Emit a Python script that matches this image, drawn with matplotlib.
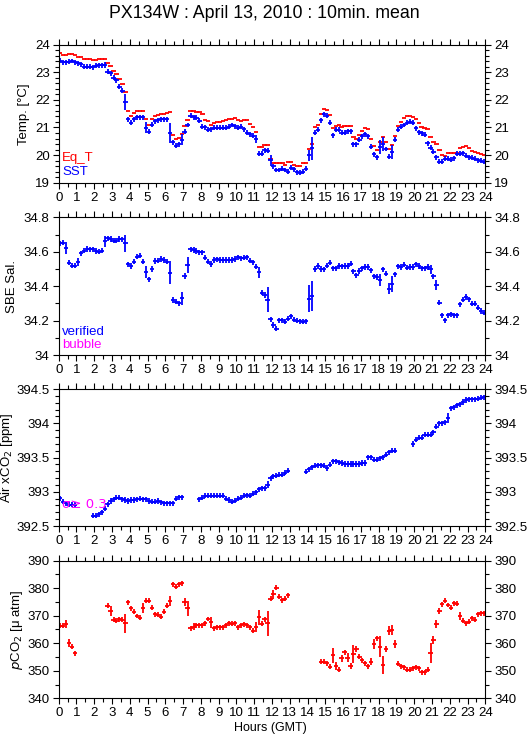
import numpy as np
import matplotlib
matplotlib.use("Agg")
import matplotlib.pyplot as plt
from matplotlib.ticker import MultipleLocator, FormatStrFormatter

plt.rcParams['font.family'] = ['Liberation Sans', 'DejaVu Sans']

# ============================================================
# DATA  (10 min means, 144 bins per day)
# ============================================================

nan = np.nan

eq_t = [
    23.69, 23.63, 23.63, 23.65, 23.65, 23.63,
    23.57, 23.55, 23.47, 23.47, 23.47, 23.44,
    23.44, 23.47, 23.49, 23.49, 23.32, 23.23,
    23.05, 22.93, 22.74, 22.57, 22.27, 21.60,
    21.42, 21.51, 21.60, 21.60, 21.58, 21.30,
    21.10, 21.30, 21.42, 21.45, 21.50, 21.50,
    21.52, 21.55, 20.73, 20.60, 20.63, 20.75,
    21.07, 21.27, 21.60, 21.60, 21.57, 21.55,
    21.48, 21.27, 21.22, 21.10, 21.15, 21.20,
    21.20, 21.24, 21.27, 21.30, 21.30, 21.33,
    21.27, 21.24, 21.27, 21.27, 21.13, 21.03,
    20.82, 20.30, 20.30, 20.37, 20.37, 19.85,
    19.72, 19.73, 19.73, 19.73, 19.64, 19.76,
    19.76, 19.64, 19.60, 19.60, 19.72, 19.72,
    20.22, 20.39, 21.03, 21.09, 21.48, 21.68,
    21.65, 21.45, 20.97, 21.07, 21.10, 21.03,
    21.07, 21.07, 21.07, 20.64, 20.60, 20.73,
    20.88, 20.97, 20.93, 20.57, 20.33, 20.18,
    20.46, 20.67, 20.46, 20.22, 20.37, 20.69,
    21.07, 21.21, 21.33, 21.42, 21.40, 21.37,
    21.32, 21.17, 21.03, 20.99, 20.94, 20.67,
    20.49, 20.40, 20.20, 20.00, 19.97, 20.09,
    20.09, 20.09, 20.06, 20.24, 20.30, 20.33,
    20.24, 20.16, 20.10, 20.06, 20.03, 20.00,
]

sst = [
    23.42, 23.36, 23.36, 23.38, 23.41, 23.36,
    23.32, 23.29, 23.20, 23.20, 23.20, 23.18,
    23.23, 23.26, 23.26, 23.26, 23.02, 22.96,
    22.80, 22.72, 22.48, 22.33, 21.93, 21.30,
    21.17, 21.30, 21.37, 21.37, 21.37, 20.99,
    20.85, 21.10, 21.23, 21.27, 21.30, 21.30,
    21.30, 20.80, 20.46, 20.33, 20.39, 20.55,
    20.85, 21.09, 21.42, 21.37, 21.35, 21.24,
    21.03, 21.00, 20.91, 20.94, 20.99, 20.99,
    20.99, 20.99, 20.99, 21.03, 21.09, 21.05,
    20.99, 21.03, 20.94, 20.81, 20.75, 20.70,
    20.57, 20.04, 20.04, 20.18, 20.16, 19.82,
    19.60, 19.46, 19.46, 19.50, 19.46, 19.40,
    19.54, 19.48, 19.37, 19.36, 19.40, 19.50,
    20.00, 20.24, 20.81, 20.91, 21.27, 21.48,
    21.43, 21.17, 20.72, 20.91, 20.91, 20.81,
    20.81, 20.87, 20.87, 20.39, 20.39, 20.55,
    20.69, 20.75, 20.69, 20.30, 20.03, 19.92,
    20.30, 20.39, 20.22, 19.94, 20.12, 20.55,
    20.91, 21.03, 21.09, 21.17, 21.21, 21.17,
    20.97, 20.82, 20.79, 20.73, 20.42, 20.27,
    20.12, 19.92, 19.76, 19.76, 19.86, 19.86,
    19.84, 19.88, 20.04, 20.04, 20.06, 19.97,
    19.92, 19.91, 19.86, 19.82, 19.79, 19.76,
]
sst_err_big = {15: 0.12, 22: 0.3, 29: 0.2, 37: 0.35, 41: 0.2, 66: 0.15,
               71: 0.2, 84: 0.2, 85: 0.4, 108: 0.25, 109: 0.25, 112: 0.25}

sal = [
    34.649, 34.653, 34.620, 34.536, 34.520, 34.520,
    34.540, 34.590, 34.606, 34.616, 34.614, 34.614,
    34.604, 34.600, 34.606, 34.660, 34.678, 34.674,
    34.664, 34.664, 34.674, 34.672, 34.649, 34.527,
    34.517, 34.542, 34.571, 34.577, 34.542, 34.484,
    34.440, 34.500, 34.546, 34.548, 34.558, 34.552,
    34.542, 34.478, 34.320, 34.310, 34.300, 34.329,
    34.459, 34.523, 34.614, 34.610, 34.604, 34.596,
    34.596, 34.565, 34.542, 34.529, 34.552, 34.556,
    34.552, 34.552, 34.552, 34.552, 34.552, 34.558,
    34.567, 34.562, 34.565, 34.567, 34.548, 34.538,
    34.513, 34.480, 34.362, 34.349, 34.322, 34.208,
    34.174, 34.154, 34.202, 34.202, 34.193, 34.212,
    34.226, 34.206, 34.199, 34.197, 34.193, 34.197,
    34.328, 34.343, 34.500, 34.517, 34.500, 34.497,
    34.520, 34.536, 34.505, 34.505, 34.517, 34.515,
    34.517, 34.517, 34.530, 34.486, 34.463, 34.488,
    34.505, 34.511, 34.511, 34.492, 34.457, 34.453,
    34.434, 34.497, 34.472, 34.386, 34.414, 34.468,
    34.515, 34.511, 34.524, 34.507, 34.511, 34.511,
    34.526, 34.517, 34.505, 34.505, 34.511, 34.497,
    34.457, 34.405, 34.303, 34.231, 34.202, 34.231,
    34.237, 34.231, 34.231, 34.295, 34.322, 34.337,
    34.324, 34.299, 34.299, 34.276, 34.256, 34.247,
]
sal_err_big = {2: 0.034, 6: 0.025, 15: 0.034, 22: 0.048, 29: 0.034, 37: 0.068,
               41: 0.039, 43: 0.048, 67: 0.034, 70: 0.072, 84: 0.077, 85: 0.087,
               108: 0.034, 111: 0.03, 112: 0.048, 125: 0.025, 127: 0.03}

air_xco2 = [
    392.904, 392.855, 392.830, 392.810, 392.810, 392.810,
    nan, nan, nan, nan, nan, 392.650,
    392.650, 392.670, 392.700, 392.750, 392.820, 392.865,
    392.890, 392.910, 392.910, 392.890, 392.880, 392.865,
    392.880, 392.880, 392.890, 392.900, 392.890, 392.890,
    392.865, 392.855, 392.855, 392.865, 392.845, 392.830,
    392.830, 392.830, 392.830, 392.900, 392.920, 392.920,
    nan, nan, nan, nan, nan, 392.890,
    392.910, 392.940, 392.940, 392.940, 392.940, 392.940,
    392.940, 392.940, 392.900, 392.880, 392.855, 392.870,
    392.900, 392.910, 392.940, 392.950, 392.940, 392.970,
    392.990, 393.035, 393.050, 393.050, 393.105, 393.200,
    393.226, 393.236, 393.250, 393.250, 393.275, 393.310,
    nan, nan, nan, nan, nan, 393.290,
    393.330, 393.357, 393.380, 393.386, 393.386, 393.380,
    393.347, 393.395, 393.444, 393.444, 393.430, 393.420,
    393.405, 393.405, 393.405, 393.405, 393.405, 393.405,
    393.420, 393.420, 393.507, 393.507, 393.470, 393.470,
    393.490, 393.507, 393.540, 393.575, 393.600, 393.600,
    nan, nan, nan, nan, nan, 393.700,
    393.760, 393.790, 393.790, 393.830, 393.830, 393.830,
    393.866, 393.950, 394.000, 394.000, 394.015, 394.080,
    394.220, 394.234, 394.260, 394.280, 394.310, 394.340,
    394.350, 394.350, 394.350, 394.360, 394.375, 394.380,
]
xco2_err_big = {70: 0.05, 119: 0.04, 131: 0.07}

pco2 = [
    366.3, 366.4, 366.9, 360.0, 358.8, 356.4,
    nan, nan, nan, nan, nan, nan,
    nan, nan, nan, nan, 373.7, 371.8,
    368.5, 368.2, 368.7, 368.5, 367.2, 374.9,
    372.7, 371.5, 369.9, 369.3, 372.9, 375.4,
    375.4, 372.9, 370.6, 370.3, 369.7, 371.5,
    373.7, 375.4, 381.5, 380.6, 381.4, 381.8,
    375.1, 372.7, 365.4, 366.0, 366.6, 366.6,
    366.6, 367.2, 368.8, 367.6, 365.4, 365.8,
    365.8, 365.8, 366.6, 367.2, 367.0, 367.2,
    365.8, 366.6, 366.9, 366.6, 365.8, 364.5,
    366.0, 369.4, 367.0, 368.7, 367.2, 376.1,
    377.8, 380.2, 376.9, 375.7, 376.1, 377.5,
    nan, nan, nan, nan, nan, nan,
    nan, nan, nan, nan, 353.3, 353.3,
    352.7, 351.5, 355.7, 351.7, 350.3, 354.5,
    356.7, 354.8, 351.7, 356.0, 357.9, 355.1,
    353.9, 352.7, 351.7, 353.3, 359.7, 361.8,
    358.8, 352.1, 357.9, 364.6, 364.8, 359.7,
    352.5, 351.7, 351.3, 350.3, 350.3, 350.9,
    351.3, 350.9, 349.4, 349.4, 350.3, 356.6,
    361.2, 367.0, 371.7, 374.1, 375.5, 373.9,
    372.9, 374.5, 374.3, 369.9, 368.1, 367.2,
    367.8, 369.1, 368.5, 370.5, 370.9, 370.9,
]
pco2_err_big = {2: 1.5, 3: 1.5, 17: 1.8, 22: 3.6, 28: 1.9, 37: 1.8, 42: 1.5,
                43: 2.7, 45: 1.2, 51: 2.0, 66: 1.8, 67: 2.7, 70: 4.5, 72: 1.7,
                92: 2.7, 93: 1.5, 95: 1.2, 97: 1.6, 98: 1.0, 99: 3.3, 100: 1.0,
                105: 1.2, 106: 1.7, 108: 3.8, 109: 3.2, 110: 1.2, 111: 1.7,
                112: 1.8, 113: 1.6, 125: 3.6, 126: 1.5, 127: 1.3, 128: 1.0,
                135: 1.5}

hours = (np.arange(144) + 0.5) / 6.0


def errs(default, big):
    e = np.full(144, default)
    for k, v in big.items():
        e[k] = v
    return e


# ============================================================
# PLOT
# ============================================================

RED = "#ff0000"
BLUE = "#0000ff"
MAG = "#ff00ff"
XHALF = 0.12  # half width of the 10 min bar, hours

fig = plt.figure(figsize=(5.29, 7.39), dpi=100)

left, width = 0.111, 0.8064
panels = [
    (0.7528, 0.1867),
    (0.5196, 0.1863),
    (0.2882, 0.1854),
    (0.0551, 0.1862),
]
axes = [fig.add_axes([left, b, width, h]) for b, h in panels]

yspecs = [
    (19, 24, 1, 0.2, "Temp. [°C]", -0.068),
    (34, 34.8, 0.2, 0.1, "SBE Sal.", -0.095),
    (392.5, 394.5, 0.5, 0.1, "Air xCO$_2$ [ppm]", -0.102),
    (340, 390, 10, 5, "$p$CO$_2$ [μ atm]", -0.079),
]

for ax, (y0, y1, maj, mnr, lab, lx) in zip(axes, yspecs):
    ax.set_xlim(0, 24)
    ax.set_ylim(y0, y1)
    ax.xaxis.set_major_locator(MultipleLocator(1))
    ax.xaxis.set_minor_locator(MultipleLocator(0.5))
    ax.yaxis.set_major_locator(MultipleLocator(maj))
    ax.yaxis.set_minor_locator(MultipleLocator(mnr))
    ax.yaxis.set_major_formatter(FormatStrFormatter("%g"))
    ax.tick_params(which="both", direction="out", top=True, right=True,
                   labelright=True, labelsize=9.5, width=0.8, pad=2)
    ax.tick_params(which="major", length=4.5)
    ax.tick_params(which="minor", length=3)
    ax.set_ylabel(lab, fontsize=9.5)
    ax.yaxis.set_label_coords(lx, 0.5)
    for s in ax.spines.values():
        s.set_linewidth(0.8)

ax1, ax2, ax3, ax4 = axes
fmt = dict(fmt="none", elinewidth=1.3, capsize=0)

# Temperature
ax1.errorbar(hours, eq_t, xerr=XHALF, ecolor=RED, **fmt)
ax1.errorbar(hours, sst, xerr=XHALF, yerr=errs(0.09, sst_err_big), ecolor=BLUE, **fmt)
ax1.text(0.008, 0.18, "Eq_T", color=RED, fontsize=9.5, transform=ax1.transAxes, va="center")
ax1.text(0.008, 0.075, "SST", color=BLUE, fontsize=9.5, transform=ax1.transAxes, va="center")

# Salinity
ax2.errorbar(hours, sal, xerr=XHALF, yerr=errs(0.015, sal_err_big), ecolor=BLUE, **fmt)
ax2.text(0.008, 0.165, "verified", color=BLUE, fontsize=9.5, transform=ax2.transAxes, va="center")
ax2.text(0.008, 0.073, "bubble", color=MAG, fontsize=9.5, transform=ax2.transAxes, va="center")

# Air xCO2
ax3.errorbar(hours, air_xco2, xerr=XHALF, yerr=errs(0.037, xco2_err_big), ecolor=BLUE, **fmt)
ax3.text(0.008, 0.158, "σ≥ 0.3", color=MAG, fontsize=9.5, transform=ax3.transAxes, va="center",
         family=["DejaVu Sans"])

# pCO2
ax4.errorbar(hours, pco2, xerr=XHALF, yerr=errs(0.9, pco2_err_big), ecolor=RED, **fmt)

fig.text(0.5, 0.982, "PX134W : April 13, 2010 : 10min. mean", ha="center", va="center", fontsize=12.8)
fig.text(270 / 529, 0.015, "Hours (GMT)", ha="center", va="center", fontsize=9)

fig.savefig("out.png", dpi=100)
